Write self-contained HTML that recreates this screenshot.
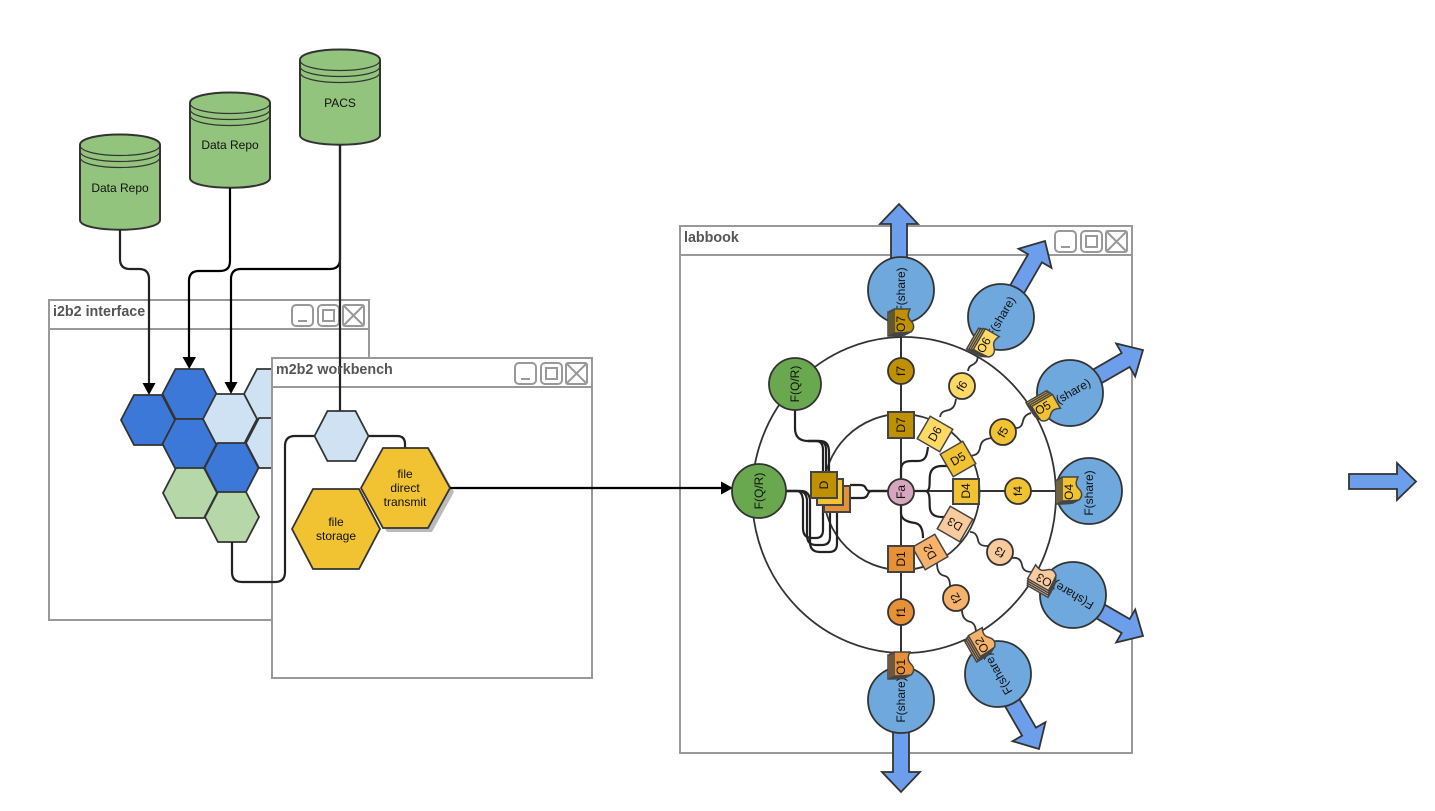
<!DOCTYPE html>
<html>
<head>
<meta charset="utf-8">
<style>
html,body{margin:0;padding:0;background:#fff;width:1435px;height:811px;overflow:hidden}
svg{display:block}
text{font-family:"Liberation Sans",sans-serif;font-size:12px;fill:#111;stroke:none;text-anchor:middle;dominant-baseline:central}
.t{font-size:14.300px;font-weight:bold;fill:#555;text-anchor:start;dominant-baseline:auto}
.w{fill:#fff;stroke:#999;stroke-width:2}
.b{fill:#fff;stroke:#999;stroke-width:2}
.bl{fill:none;stroke:#999;stroke-width:2}
.h{stroke:#333;stroke-width:1.800}
.c{fill:none;stroke:#222;stroke-width:2.200}
.k{fill:none;stroke:#000;stroke-width:2.200}
.l{fill:none;stroke:#333;stroke-width:1.800}
.a{fill:#6d9eeb;stroke:#333;stroke-width:1.800}
.n{stroke:#333;stroke-width:1.800}
.s{stroke:#444;stroke-width:2}
.o{stroke:#444;stroke-width:1.500}
.cy{fill:#93c47d;stroke:#333;stroke-width:2}
.cl{fill:none;stroke:#333;stroke-width:1.200}
.sm{font-size:12px}
</style>
</head>
<body>
<svg width="1435" height="811" viewBox="0 0 1435 811" xmlns="http://www.w3.org/2000/svg">
<defs>
<path id="hx" d="M-27,0 L-14,-25 L14,-25 L27,0 L14,25 L-14,25 Z"/>
<path id="ar" d="M-100,-8 L-20,-8 L-20,-19 L0,0 L-20,19 L-20,8 L-100,8 Z"/>
<path id="doc" d="M-10,-12 L6,-12 C3,-6 4,-3 7,0 C10,3 11,7 7,11 C1,12 -5,12 -10,12 Z"/>
<g id="btn">
<rect class="b" x="0" y="0" width="21" height="21" rx="4"/>
<path class="bl" d="M6,16 H15"/>
<rect class="b" x="26" y="0" width="21" height="21" rx="4"/>
<rect class="bl" x="31" y="5" width="11" height="11"/>
<rect class="b" x="51" y="0" width="21" height="21" rx="2"/>
<path class="bl" d="M51,0 L72,21 M72,0 L51,21"/>
</g>
<g id="stk">
<use href="#doc" x="-6" y="3"/>
<use href="#doc" x="-4" y="2"/>
<use href="#doc" x="-2" y="1"/>
<use href="#doc"/>
</g>
</defs>

<!-- cylinders -->
<g>
<path class="cy" d="M80,145 C80,131 160,131 160,145 V220 C160,233 80,233 80,220 Z"/>
<path class="cl" d="M80,145 C80,159 160,159 160,145 M80,151 C80,165 160,165 160,151 M80,157 C80,171 160,171 160,157"/>
<text x="120" y="188">Data Repo</text>
<path class="cy" d="M190,103 C190,89 270,89 270,103 V178 C270,191 190,191 190,178 Z"/>
<path class="cl" d="M190,103 C190,117 270,117 270,103 M190,109 C190,123 270,123 270,109 M190,115 C190,129 270,129 270,115"/>
<text x="230" y="145">Data Repo</text>
<path class="cy" d="M300,60 C300,46 380,46 380,60 V135 C380,148 300,148 300,135 Z"/>
<path class="cl" d="M300,60 C300,74 380,74 380,60 M300,66 C300,80 380,80 380,66 M300,72 C300,86 380,86 380,72"/>
<text x="340" y="103">PACS</text>
</g>

<!-- i2b2 window -->
<rect class="w" x="49" y="300" width="320" height="320"/>
<path class="bl" d="M49,329 H369"/>
<text class="t" x="53" y="316">i2b2 interface</text>
<use href="#btn" x="292" y="305"/>

<!-- hexagons i2b2 -->
<use href="#hx" class="h" x="271" y="394" fill="#cfe2f3"/>
<use href="#hx" class="h" x="273" y="443" fill="#cfe2f3"/>
<use href="#hx" class="h" x="148" y="420" fill="#3c78d8"/>
<use href="#hx" class="h" x="189.500" y="394" fill="#3c78d8"/>
<use href="#hx" class="h" x="189.500" y="444" fill="#3c78d8"/>
<use href="#hx" class="h" x="190" y="493" fill="#b6d7a8"/>
<use href="#hx" class="h" x="230" y="419" fill="#cfe2f3"/>
<use href="#hx" class="h" x="231.500" y="468" fill="#3c78d8"/>
<use href="#hx" class="h" x="232" y="517" fill="#b6d7a8"/>

<!-- m2b2 window -->
<rect class="w" x="272" y="358" width="320" height="320"/>
<path class="bl" d="M272,387 H592"/>

<!-- connectors to i2b2 -->
<path class="c" d="M120,230 V259 Q120,269 130,269 H139 Q149,269 149,279 V384"/>
<path class="k" d="M230,188 V261 Q230,271 220,271 H199 Q189,271 189,281 V358"/>
<path class="k" d="M340,145 V259 Q340,269 330,269 H241 Q231,269 231,279 V383"/>
<path class="c" d="M340,145 V411"/>
<path fill="#000" d="M142.500,383 H155.500 L149,395 Z"/>
<path fill="#000" d="M182.500,357 H196 L189.250,369 Z"/>
<path fill="#000" d="M224.500,382 H237.500 L231,394 Z"/>

<text class="t" x="276" y="374">m2b2 workbench</text>
<use href="#btn" x="515" y="363"/>

<!-- m2b2 contents -->
<path class="c" d="M232,542 V572 Q232,582 242,582 H275 Q285,582 285,572 V446 Q285,436 295,436 H314"/>
<path class="c" d="M369,436 H397 Q405,436 405,444 V449"/>
<use href="#hx" class="h" x="341.500" y="436" fill="#cfe2f3"/>
<path d="M365,492 L387,452 L432,452 L454,492 L432,532 L387,532 Z" fill="#bbb"/>
<path class="h" fill="#f1c232" d="M292,529 L313,489 L359,489 L380,529 L359,569 L313,569 Z"/>
<path class="h" fill="#f1c232" d="M361,488 L383,448 L428,448 L450,488 L428,528 L383,528 Z"/>
<text x="336" y="522">file</text>
<text x="336" y="536">storage</text>
<text x="405" y="474">file</text>
<text x="405" y="488">direct</text>
<text x="405" y="502">transmit</text>

<!-- labbook window -->
<rect class="w" x="680" y="226" width="452" height="527"/>
<path class="bl" d="M680,255 H1132"/>
<text class="t" x="684" y="242">labbook</text>
<use href="#btn" x="1055" y="231"/>

<path class="k" d="M450,488 H722"/>
<path fill="#000" d="M721,481.500 L733,488 L721,494.500 Z"/>

<!-- block arrows -->
<use href="#ar" class="a" transform="translate(899,204) rotate(-90)"/>
<use href="#ar" class="a" transform="translate(1045,241) rotate(-60)"/>
<use href="#ar" class="a" transform="translate(1143,350) rotate(-30)"/>
<use href="#ar" class="a" transform="translate(1143,636) rotate(30)"/>
<use href="#ar" class="a" transform="translate(1039,749) rotate(60)"/>
<use href="#ar" class="a" transform="translate(901,792) rotate(90)"/>
<path class="a" d="M1349,474 H1397 V463 L1416,481.500 L1397,500 V489 H1349 Z"/>

<!-- share circles -->
<circle class="n" cx="901" cy="290" r="33" fill="#6fa8dc"/>
<circle class="n" cx="1001" cy="317" r="33" fill="#6fa8dc"/>
<circle class="n" cx="1070" cy="393" r="33" fill="#6fa8dc"/>
<circle class="n" cx="1089" cy="491" r="33" fill="#6fa8dc"/>
<circle class="n" cx="1073" cy="595" r="33" fill="#6fa8dc"/>
<circle class="n" cx="998" cy="674" r="33" fill="#6fa8dc"/>
<circle class="n" cx="901" cy="700" r="33" fill="#6fa8dc"/>
<text transform="translate(901,290) rotate(-90)">F(share)</text>
<text transform="translate(1001,317) rotate(-60)">F(share)</text>
<text transform="translate(1070,393) rotate(-30)">F(share)</text>
<text transform="translate(1089,493) rotate(-90)">F(share)</text>
<text transform="translate(1073,595) rotate(210)">F(share)</text>
<text transform="translate(998,674) rotate(240)">F(share)</text>
<text transform="translate(901,700) rotate(-90)">F(share)</text>

<!-- rings -->
<ellipse class="l" cx="904" cy="495" rx="152" ry="158"/>
<circle class="l" cx="901.500" cy="492" r="78"/>

<!-- spokes -->
<path class="l" d="M901,325 V667 M901,491 H1062" style="stroke-width:2"/>
<path class="c" d="M785,491 H797 Q802,491 803,500 V528 Q803,538 812,538 H816 Q823,538 823,530 V498"/>
<path class="c" d="M785,491 H799 Q806,491 807,500 V535 Q807,545 816,545 H822 Q830,545 830,537 V505"/>
<path class="c" d="M785,491 H801 Q809,491 810,500 V542 Q810,552 820,552 H829 Q837,552 837,544 V510"/>
<path class="c" d="M795,410 V428 Q795,441 808,441 H816 Q823,441 823,450 V472"/>
<path class="c" d="M808,441 H819 Q826,441 826,450 V472"/>
<path class="c" d="M808,441 H820 Q829,441 829,452 V472"/>
<path class="c" d="M888,491 H870 C864,491 868,485 860,485 H850"/>
<path class="c" d="M888,491 H872 C866,491 870,498 862,498 H850"/>
<path class="c" d="M901,478 V470 C901,463 905,461 912,461 H918 C926,461 927,455 928,447"/>
<path class="c" d="M915,491 H926 C931,491 929,482 930,475 C931,469 935,466 942,466 H950"/>
<path class="c" d="M926,491 C931,493 929,503 930,509 C931,515 936,517 942,517 H950"/>
<path class="c" d="M901,505 V513 C901,520 908,522 915,523 C921,524 923,530 923,538"/>

<!-- wavy -->
<path class="l" d="M940,417 C941,411 945,411 949,410 C954,408 955,405 956,399"/>
<path class="l" d="M968,371 C969,364 973,366 975,363 C978,361 977,359 978,356"/>
<path class="l" d="M970,456 C978,455 979,452 980,448 C981,441 984,439 992,438"/>
<path class="l" d="M1016,428 C1021,428 1022,425 1023,421 C1024,416 1027,414 1031,413"/>
<path class="l" d="M970,532 C975,532 977,535 978,540 C979,545 982,546 988,546"/>
<path class="l" d="M1012,558 C1018,557 1021,560 1022,565 C1023,571 1027,572 1033,572"/>
<path class="l" d="M937,563 C937,572 940,575 945,576 C949,577 950,581 950,586"/>
<path class="l" d="M962,610 C962,618 966,621 971,622 C975,624 976,628 976,634"/>

<!-- small circles -->
<circle class="n" cx="901" cy="371" r="13" fill="#bf9000"/><text transform="translate(901,371) rotate(-90)">f7</text>
<circle class="n" cx="962" cy="386" r="13" fill="#ffd966"/><text transform="translate(962,386) rotate(-60)">f6</text>
<circle class="n" cx="1003" cy="432" r="13" fill="#f1c232"/><text transform="translate(1003,432) rotate(-60)">f5</text>
<circle class="n" cx="1018" cy="491" r="13" fill="#f1c232"/><text transform="translate(1018,491) rotate(-90)">f4</text>
<circle class="n" cx="1000" cy="552" r="13" fill="#f9cb9c"/><text transform="translate(1000,552) rotate(210)">f3</text>
<circle class="n" cx="956" cy="598" r="13" fill="#f6b26b"/><text transform="translate(956,598) rotate(240)">f2</text>
<circle class="n" cx="901" cy="612" r="13" fill="#e69138"/><text transform="translate(901,612) rotate(-90)">f1</text>
<circle class="n" cx="901" cy="492" r="13" fill="#d5a6bd"/><text transform="translate(901,492) rotate(-90)">Fa</text>

<!-- F(Q/R) -->
<circle class="n" cx="759" cy="491" r="27" fill="#6aa84f"/><text transform="translate(759,491) rotate(-90)">F(Q/R)</text>
<circle class="n" cx="795" cy="384" r="26" fill="#6aa84f"/><text transform="translate(795,384) rotate(-90)">F(Q/R)</text>

<!-- D squares -->
<rect class="s" x="888" y="412" width="26" height="26" fill="#bf9000"/><text transform="translate(901,425) rotate(-90)">D7</text>
<g transform="translate(935,434) rotate(-60)"><rect class="s" x="-13" y="-13" width="26" height="26" fill="#ffd966" style="stroke-width:1.500"/><text>D6</text></g>
<g transform="translate(958,459) rotate(-30)"><rect class="s" x="-13" y="-13" width="26" height="26" fill="#f1c232" style="stroke-width:1.500"/><text>D5</text></g>
<rect class="s" x="953" y="479" width="26" height="25" fill="#f1c232"/><text transform="translate(966,491) rotate(-90)">D4</text>
<g transform="translate(955,524) rotate(210)"><rect class="s" x="-13" y="-13" width="26" height="26" fill="#f9cb9c" style="stroke-width:1.500"/><text>D3</text></g>
<g transform="translate(930,552) rotate(240)"><rect class="s" x="-13" y="-13" width="26" height="26" fill="#f6b26b" style="stroke-width:1.500"/><text>D2</text></g>
<rect class="s" x="888" y="546" width="26" height="26" fill="#e69138"/><text transform="translate(901,559) rotate(-90)">D1</text>

<!-- D stack -->
<rect class="s" x="824" y="486" width="26" height="26" fill="#e69138"/>
<rect class="s" x="817" y="479" width="26" height="26" fill="#f1c232"/>
<rect class="s" x="811" y="472" width="26" height="26" fill="#bf9000"/>
<text transform="translate(824,485) rotate(-90)">D</text>

<!-- O stacks -->
<g transform="translate(904,321)" class="o" fill="#bf9000"><use href="#stk"/><text transform="translate(-3,3) rotate(-90)">O7</text></g>
<g transform="translate(988,344) rotate(30)" class="o" fill="#ffd966"><use href="#stk"/><text transform="translate(-3,3) rotate(-90)">O6</text></g>
<g transform="translate(1047,409) rotate(60)" class="o" fill="#f1c232"><use href="#stk"/><text transform="translate(-3,3) rotate(-90)">O5</text></g>
<g transform="translate(1072,489)" class="o" fill="#f1c232"><use href="#stk"/><text transform="translate(-3,3) rotate(-90)">O4</text></g>
<g transform="translate(1043,576) rotate(-60)" class="o" fill="#f9cb9c"><use href="#stk"/><text transform="translate(-3,3) rotate(-90)">O3</text></g>
<g transform="translate(983,641) rotate(-30)" class="o" fill="#f6b26b"><use href="#stk"/><text transform="translate(-3,3) rotate(-90)">O2</text></g>
<g transform="translate(904,664)" class="o" fill="#e69138"><use href="#stk"/><text transform="translate(-3,3) rotate(-90)">O1</text></g>
</svg>
</body>
</html>
